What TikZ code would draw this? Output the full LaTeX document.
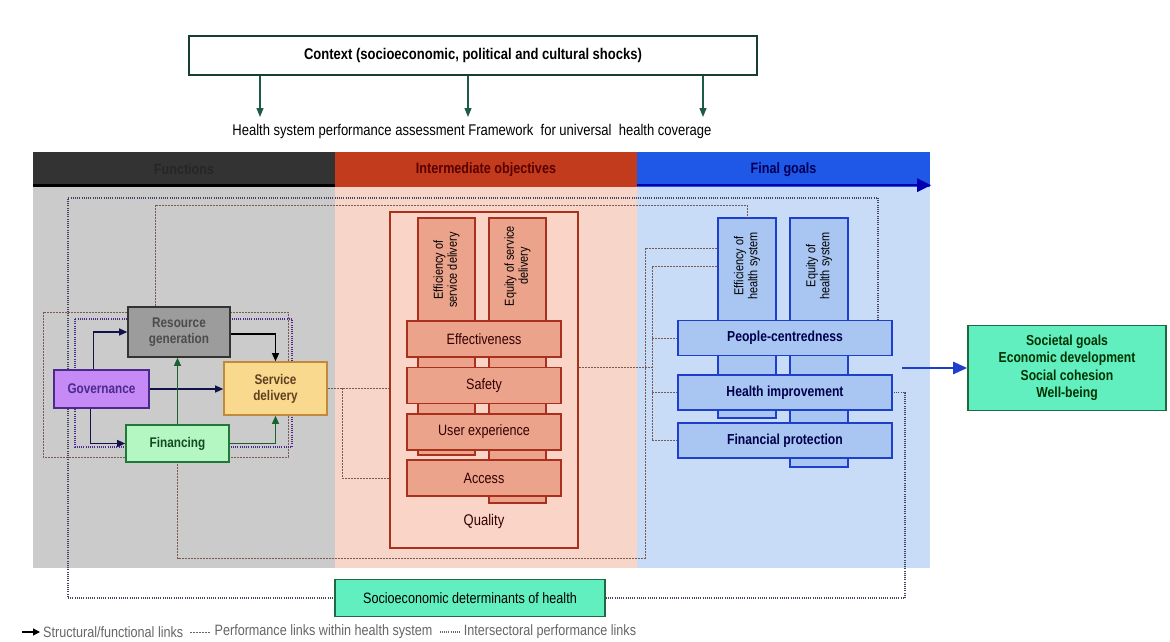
\documentclass[tikz,border=0pt]{standalone}
\usepackage{fontspec}
\setmainfont{Liberation Sans}[FakeStretch=0.84]
\usetikzlibrary{arrows.meta,calc}

\definecolor{ctxgreen}{HTML}{1E5A48}
\definecolor{fnhead}{HTML}{333333}
\definecolor{objhead}{HTML}{C23B1C}
\definecolor{goalhead}{HTML}{1F57E6}
\definecolor{fnbg}{HTML}{CBCBCB}
\definecolor{objbg}{HTML}{F7D6C9}
\definecolor{goalbg}{HTML}{C9DCF7}
\definecolor{resfill}{HTML}{9C9C9C}
\definecolor{govfill}{HTML}{C58AF5}
\definecolor{govline}{HTML}{4A2A8A}
\definecolor{sdfill}{HTML}{F8D98E}
\definecolor{sdline}{HTML}{C08A3A}
\definecolor{finfill}{HTML}{B5F7C3}
\definecolor{finline}{HTML}{1F7A3A}
\definecolor{qualfill}{HTML}{FAD4C6}
\definecolor{qualline}{HTML}{A8301C}
\definecolor{rowfill}{HTML}{EBA38C}
\definecolor{bluefill}{HTML}{A9C6F2}
\definecolor{blueline}{HTML}{1D3FCC}
\definecolor{mint}{HTML}{62EFC0}
\definecolor{mintline}{HTML}{1F6A45}
\definecolor{navyarrow}{HTML}{12124A}
\definecolor{perfcol}{HTML}{7A5A50}
\definecolor{intercol}{HTML}{45455E}

\tikzset{
  txt/.style={font=\fontsize{15.5}{17}\selectfont},
  fnbox/.style={draw, line width=1.6pt, align=center, inner sep=1pt,
    font=\bfseries\fontsize{14}{16}\selectfont},
  colbox/.style={draw=qualline, fill=rowfill, line width=1.6pt, minimum width=57pt},
  rowbox/.style={draw=qualline, fill=rowfill, line width=1.6pt, minimum width=154pt,
    minimum height=36pt, font=\fontsize{15}{16}\selectfont, text=black!80!red},
  bcolbox/.style={draw=blueline, fill=bluefill, line width=1.6pt, minimum width=58pt},
  browbox/.style={draw=blueline, fill=bluefill, line width=1.6pt, minimum width=214pt,
    minimum height=35pt, font=\bfseries\fontsize{14.5}{16}\selectfont, text=blue!30!black},
  vtxt/.style={rotate=90, align=center, font=\fontsize{13}{14}\selectfont},
  goalbox/.style={draw=mintline, fill=mint, line width=1.6pt, align=center},
  hdr/.style={minimum height=35pt, inner sep=0pt, font=\bfseries\fontsize{15}{16}\selectfont},
  struct/.style={-{Triangle[length=8pt,width=7pt]}, line width=1.2pt, navyarrow},
  perf/.style={perfcol, line width=0.9pt, dash pattern=on 2pt off 1pt},
  inter/.style={intercol, line width=1.3pt, dash pattern=on 1pt off 1.2pt},
}

\begin{document}
\begin{tikzpicture}[x=1pt,y=-1pt]
  \useasboundingbox[fill=white] (0,0) rectangle (1170,642);

  % context and title
  \node[draw=ctxgreen!70!black, line width=1.2pt, minimum width=568pt, minimum height=39pt,
    font=\bfseries\fontsize{15.5}{17}\selectfont] (context) at (473,55.5)
    {Context (socioeconomic, political and cultural shocks)};
  \node[txt] (title) at (472,131)
    {Health system performance assessment Framework\ \ for universal\ \ health coverage};
  \foreach \x in {260,468,703}
    \draw[-{Triangle[length=9pt,width=7pt]}, line width=1.2pt, ctxgreen]
      (context.south -| \x,0) -- (\x,117);

  % panels
  \fill[fnbg] (33,187) rectangle (335,568);
  \fill[objbg] (335,187) rectangle (637,568);
  \fill[goalbg] (637,187) rectangle (930,568);

  % header band
  \node[hdr, fill=fnhead, minimum width=302pt, text=black!85] (hdrF) at (184,169.5) {Functions};
  \node[hdr, fill=objhead, minimum width=302pt, text=red!35!black] (hdrI) at (486,169.5)
    {Intermediate objectives};
  \node[hdr, fill=goalhead, minimum width=293pt, text=blue!35!black] (hdrG) at (783.5,169.5)
    {Final goals};
  \draw[line width=3pt, black] ([yshift=1.5pt]hdrF.south west) -- ([yshift=1.5pt]hdrF.south east);
  \draw[line width=2.5pt, blue!70!black, -{Triangle[length=14pt,width=13pt]}]
    ([yshift=2pt]hdrG.south west) -- ([xshift=1pt,yshift=2pt]hdrG.south east);

  % performance loops round the functions (behind the boxes)
  \draw[perf] (43,312) rectangle (288,457);
  \draw[inter, govline] (75,319) rectangle (292,447);

  % functions
  \node[fnbox, fill=resfill, draw=black!80, minimum width=102pt, minimum height=50pt,
    text=black!70] (resgen) at (179,332) {Resource\\generation};
  \node[fnbox, fill=govfill, draw=govline, minimum width=95pt, minimum height=38pt,
    text=govline] (gov) at (101.5,389) {Governance};
  \node[fnbox, fill=sdfill, draw=sdline, minimum width=103pt, minimum height=53pt,
    text=brown!50!black] (servdel) at (275.5,388.5) {Service\\delivery};
  \node[fnbox, fill=finfill, draw=finline, minimum width=103pt, minimum height=37pt,
    text=finline!60!black] (fin) at (177.5,443.5) {Financing};

  \draw[struct] ([xshift=-8pt]gov.north) |- (resgen.west);
  \draw[struct] (gov.east) -- (servdel.west |- gov.east);
  \draw[struct] ([xshift=-11pt]gov.south) |- (fin.west);
  \draw[struct, black] ([yshift=-2pt]resgen.east) -| (servdel.north);
  \draw[struct, finline!80!black] (fin.north) -- (fin.north |- resgen.south);
  \draw[struct, finline!80!black] (fin.east) -| (servdel.south);

  % intermediate objectives
  \node[draw=qualline, fill=qualfill, line width=1.6pt, minimum width=188pt,
    minimum height=336pt] (quality) at (484,380) {};
  \node[colbox, minimum height=237pt] (effsd) at (446.5,336.5) {};
  \node[colbox, minimum height=285pt] (eqsd) at (517.5,360.5) {};
  \node[vtxt] at (446.5,270) {Efficiency of\\service delivery};
  \node[vtxt] at (517.5,266) {Equity of service\\delivery};
  \node[rowbox] (effect) at (484,339) {Effectiveness};
  \node[rowbox] (safety) at (484,385.5) {Safety};
  \node[rowbox] (userexp) at (484,432) {User experience};
  \node[rowbox] (access) at (484,478) {Access};
  \node[txt, text=black!80!red] at (484,521) {Quality};

  % final goals
  \node[bcolbox, minimum height=200pt] (effhs) at (747,318) {};
  \node[bcolbox, minimum height=249pt] (eqhs) at (819,342.5) {};
  \node[vtxt] at (747,266) {Efficiency of\\health system};
  \node[vtxt] at (819,266) {Equity of\\health system};
  \node[browbox] (people) at (785,338) {People-centredness};
  \node[browbox] (healthimp) at (785,392.5) {Health improvement};
  \node[browbox] (finprot) at (785,440.5) {Financial protection};

  \node[goalbox, minimum width=198pt, minimum height=85pt,
    font=\bfseries\fontsize{14.5}{17.5}\selectfont, text=black!80!green] (societal) at (1067,368)
    {Societal goals\\Economic development\\Social cohesion\\Well-being};
  \node[goalbox, minimum width=270pt, minimum height=37pt,
    font=\fontsize{15}{16}\selectfont] (socdet) at (470,598) {Socioeconomic determinants of health};

  \coordinate (goalout) at (902,368);
  \draw[-{Triangle[length=14pt,width=12pt]}, line width=2.5pt, blueline]
    (goalout) -- (societal.west);

  % performance links within the health system
  \coordinate (sdq) at (342,388);
  \draw[perf] (servdel.east) -- (quality.west |- servdel.east);
  \draw[perf] (sdq) |- (quality.west |- access.center);
  \coordinate (qr) at (652,367);
  \coordinate (rt) at (652,266);
  \draw[perf] (quality.east |- qr) -- (qr);
  \draw[perf] (effhs.west |- rt) -- (rt) |- (finprot.west);
  \draw[perf] (rt |- people.west) -- (people.west);
  \draw[perf] (rt |- healthimp.west) -- (healthimp.west);
  \coordinate (bb) at (645,248);
  \coordinate (low) at (645,558);
  \draw[perf] (effhs.west |- bb) -- (bb) -- (low) -| (fin.south);
  \coordinate (rg) at (155,205);
  \draw[perf] (resgen.north -| rg) -- (rg) -| (effhs.north);

  % intersectoral links
  \coordinate (tl) at (68,198);
  \coordinate (tr) at (878,198);
  \coordinate (bl) at (68,598);
  \coordinate (br) at (905,598);
  \draw[inter] (gov.north -| tl) -- (tl) -- (tr) -- (tr |- people.north);
  \draw[inter] (gov.south -| bl) -- (bl) -- (socdet.west);
  \draw[inter] (socdet.east) -- (br) |- (healthimp.east);

  % legend
  \coordinate (lg0) at (22,632);
  \draw[-{Triangle[length=7pt,width=7pt]}, line width=1.2pt, black] (lg0) -- ++(18,0);
  \node[txt, text=black!60, anchor=west, inner sep=1pt, font=\fontsize{15}{16}\selectfont]
    (lg1) at (42,632) {Structural/functional links};
  \draw[perf, black!60] ([xshift=6pt]lg1.east) -- ++(20,0);
  \node[txt, text=black!60, anchor=west, inner sep=1pt, font=\fontsize{15}{16}\selectfont]
    (lg2) at ([xshift=29pt]lg1.east) {Performance links within health system};
  \draw[inter, black!60] ([xshift=6pt]lg2.east) -- ++(20,0);
  \node[txt, text=black!60, anchor=west, inner sep=1pt, font=\fontsize{15}{16}\selectfont]
    (lg3) at ([xshift=29pt]lg2.east) {Intersectoral performance links};
\end{tikzpicture}
\end{document}
